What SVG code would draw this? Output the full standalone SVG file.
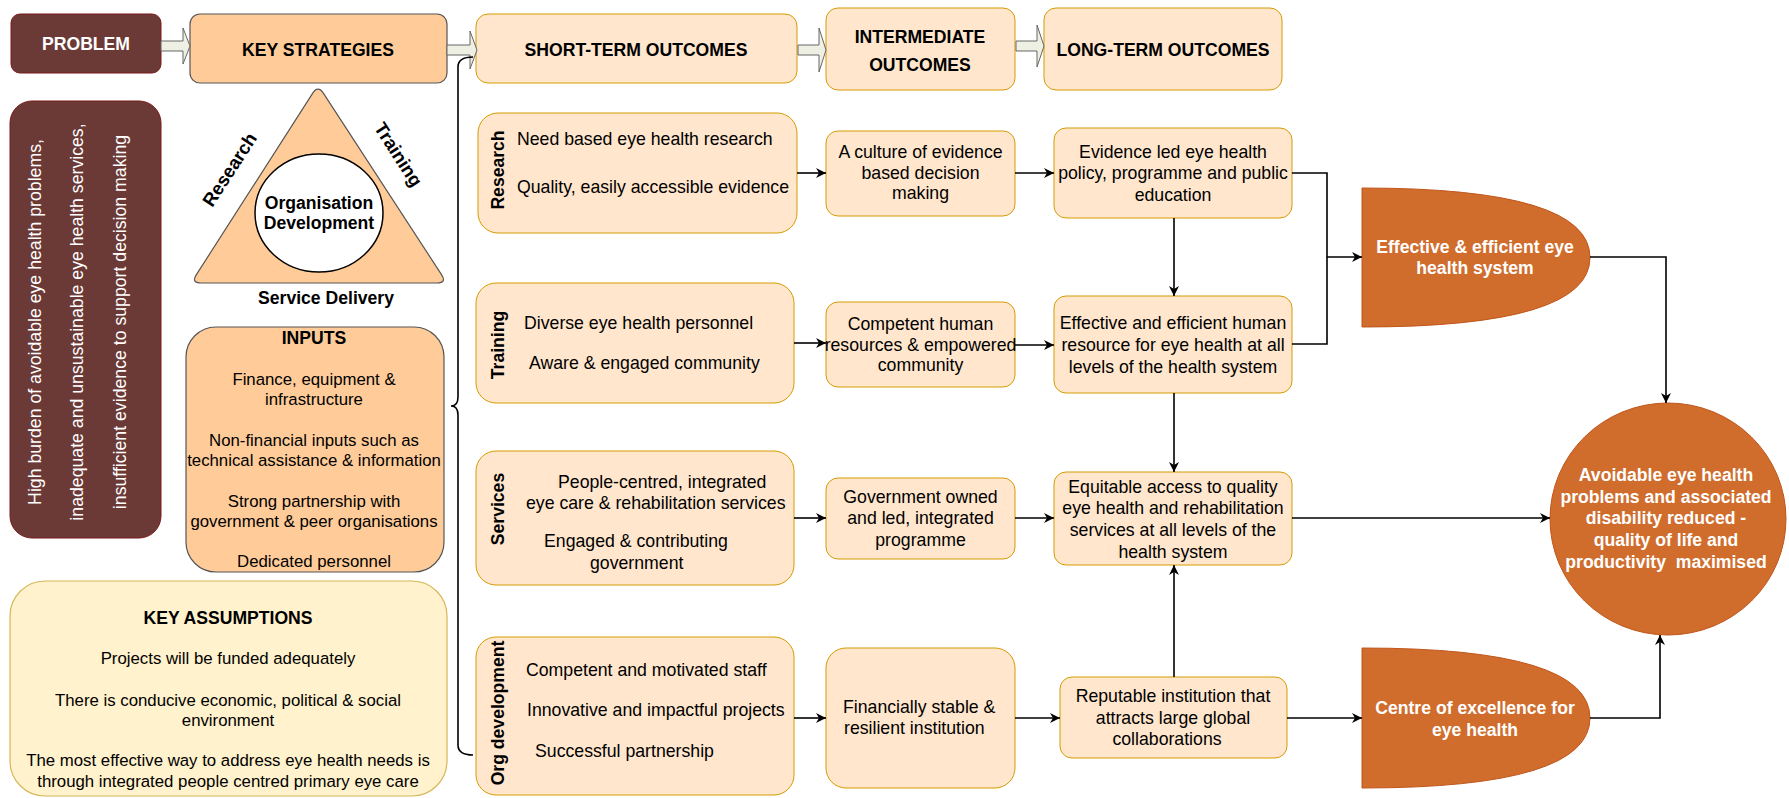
<svg xmlns="http://www.w3.org/2000/svg" width="1789" height="798" viewBox="0 0 1789 798">
<defs>
<marker id="ah" markerWidth="11" markerHeight="10" refX="10" refY="5" orient="auto" markerUnits="userSpaceOnUse">
<path d="M0,0 L10,5 L0,10 L3,5 Z" fill="#000"/>
</marker>
<style>
text{font-family:"Liberation Sans",Arial,Helvetica,sans-serif;}
.b{font-weight:bold;font-size:17.6px;}
.r{font-size:17.7px;}
.s{font-size:16.8px;}
.w{fill:#fff;}
.c{text-anchor:middle;}
.prob{fill:#6b3a36;stroke:#7a1a1a;stroke-width:1;}
.ks{fill:#ffcc99;stroke:#555;stroke-width:1.2;}
.pe{fill:#ffe6cc;stroke:#d79b00;stroke-width:1;}
.as{fill:#fff2cc;stroke:#d6b656;stroke-width:1.2;}
.or{fill:#d06d2d;stroke:#c0561a;stroke-width:1;}
.ba{fill:#eef0e4;stroke:#666;stroke-width:1;}
.ln{fill:none;stroke:#000;stroke-width:1.6;}
</style>
</defs>

<g id="problem">
<rect class="prob" x="11" y="14" width="150" height="59" rx="9"/>
<text class="b w c" x="86" y="50">PROBLEM</text>
</g>

<g id="problem-detail">
<rect class="prob" x="10" y="101" width="151" height="437" rx="22"/>
<text class="r w c" transform="translate(41,322) rotate(-90)">High burden of avoidable eye health problems,</text>
<text class="r w c" transform="translate(83,322) rotate(-90)">inadequate and unsustainable eye health services,</text>
<text class="r w c" transform="translate(126,322) rotate(-90)">insufficient evidence to support decision making</text>
</g>

<g id="key-strategies">
<rect class="ks" x="190" y="14" width="257" height="69" rx="10"/>
<text class="b c" x="318" y="56">KEY STRATEGIES</text>
</g>

<g id="strategy-triangle">
<path class="ks" d="M312.6,93.4 Q318,85 323.5,93.4 L441.5,274.6 Q447,283 437,283 L201,283 Q191,283 196.4,274.6 Z"/>
<ellipse cx="319" cy="213" rx="64" ry="59" fill="#fff" stroke="#000" stroke-width="1.5"/>
<text class="b c" x="319" y="209">Organisation</text>
<text class="b c" x="319" y="229">Development</text>
<text class="b c" style="font-size:18.5px" transform="translate(235,173) rotate(-57)">Research</text>
<text class="b c" style="font-size:18.5px" transform="translate(393,158) rotate(57)">Training</text>
<text class="b c" x="326" y="304">Service Delivery</text>
</g>

<g id="inputs">
<rect class="ks" x="186" y="327" width="258" height="245" rx="30"/>
<text class="b c" x="314" y="344">INPUTS</text>
<text class="s c" x="314" y="385">Finance, equipment &amp;</text>
<text class="s c" x="314" y="405">infrastructure</text>
<text class="s c" x="314" y="446">Non-financial inputs such as</text>
<text class="s c" x="314" y="466">technical assistance &amp; information</text>
<text class="s c" x="314" y="507">Strong partnership with</text>
<text class="s c" x="314" y="527">government &amp; peer organisations</text>
<text class="s c" x="314" y="567">Dedicated personnel</text>
</g>

<g id="key-assumptions">
<rect class="as" x="10" y="581" width="437" height="215" rx="35"/>
<text class="b c" x="228" y="624">KEY ASSUMPTIONS</text>
<text class="s c" x="228" y="664">Projects will be funded adequately</text>
<text class="s c" x="228" y="706">There is conducive economic, political &amp; social</text>
<text class="s c" x="228" y="726">environment</text>
<text class="s c" x="228" y="766">The most effective way to address eye health needs is</text>
<text class="s c" x="228" y="787">through integrated people centred primary eye care</text>
</g>

<g id="short-term-header">
<rect class="pe" x="476" y="14" width="321" height="69" rx="12"/>
<text class="b c" x="636" y="56">SHORT-TERM OUTCOMES</text>
</g>

<g id="intermediate-header">
<rect class="pe" x="826" y="8" width="189" height="82" rx="12"/>
<text class="b c" x="920" y="43">INTERMEDIATE</text>
<text class="b c" x="920" y="71">OUTCOMES</text>
</g>

<g id="long-term-header">
<rect class="pe" x="1044" y="8" width="238" height="82" rx="12"/>
<text class="b c" x="1163" y="56">LONG-TERM OUTCOMES</text>
</g>

<g id="st-research">
<rect class="pe" x="478" y="113" width="319" height="120" rx="20"/>
<text class="b c" transform="translate(504,170) rotate(-90)">Research</text>
<text class="r" x="517" y="145">Need based eye health research</text>
<text class="r" x="517" y="193">Quality, easily accessible evidence</text>
</g>

<g id="st-training">
<rect class="pe" x="476" y="283" width="318" height="120" rx="20"/>
<text class="b c" transform="translate(504,345) rotate(-90)">Training</text>
<text class="r" x="524" y="329">Diverse eye health personnel</text>
<text class="r" x="529" y="369">Aware &amp; engaged community</text>
</g>

<g id="st-services">
<rect class="pe" x="476" y="451" width="318" height="134" rx="20"/>
<text class="b c" transform="translate(504,509) rotate(-90)">Services</text>
<text class="r" x="558" y="488">People-centred, integrated</text>
<text class="r" x="526" y="509">eye care &amp; rehabilitation services</text>
<text class="r" x="544" y="547">Engaged &amp; contributing</text>
<text class="r" x="590" y="569">government</text>
</g>

<g id="st-org">
<rect class="pe" x="476" y="637" width="318" height="158" rx="20"/>
<text class="b c" transform="translate(504,713) rotate(-90)">Org development</text>
<text class="r" x="526" y="676">Competent and motivated staff</text>
<text class="r" x="527" y="716">Innovative and impactful projects</text>
<text class="r" x="535" y="757">Successful partnership</text>
</g>

<g id="im-culture">
<rect class="pe" x="826" y="131" width="189" height="85" rx="12"/>
<text class="r c" x="920.5" y="158">A culture of evidence</text>
<text class="r c" x="920.5" y="179">based decision</text>
<text class="r c" x="920.5" y="199">making</text>
</g>

<g id="im-competent">
<rect class="pe" x="826" y="302" width="189" height="85" rx="12"/>
<text class="r c" x="920.5" y="330">Competent human</text>
<text class="r c" x="920.5" y="351">resources &amp; empowered</text>
<text class="r c" x="920.5" y="371">community</text>
</g>

<g id="im-government">
<rect class="pe" x="826" y="478" width="189" height="81" rx="12"/>
<text class="r c" x="920.5" y="503">Government owned</text>
<text class="r c" x="920.5" y="524">and led, integrated</text>
<text class="r c" x="920.5" y="546">programme</text>
</g>

<g id="im-financial">
<rect class="pe" x="826" y="648" width="189" height="140" rx="20"/>
<text class="r" x="843" y="713">Financially stable &amp;</text>
<text class="r" x="844" y="734">resilient institution</text>
</g>

<g id="lt-evidence">
<rect class="pe" x="1054" y="128" width="238" height="90" rx="12"/>
<text class="r c" x="1173" y="158">Evidence led eye health</text>
<text class="r c" x="1173" y="179">policy, programme and public</text>
<text class="r c" x="1173" y="201">education</text>
</g>

<g id="lt-human">
<rect class="pe" x="1054" y="296" width="238" height="97" rx="12"/>
<text class="r c" x="1173" y="329">Effective and efficient human</text>
<text class="r c" x="1173" y="351">resource for eye health at all</text>
<text class="r c" x="1173" y="373">levels of the health system</text>
</g>

<g id="lt-equitable">
<rect class="pe" x="1054" y="472" width="238" height="93" rx="12"/>
<text class="r c" x="1173" y="493">Equitable access to quality</text>
<text class="r c" x="1173" y="514">eye health and rehabilitation</text>
<text class="r c" x="1173" y="536">services at all levels of the</text>
<text class="r c" x="1173" y="558">health system</text>
</g>

<g id="lt-reputable">
<rect class="pe" x="1060" y="677" width="227" height="81" rx="12"/>
<text class="r c" x="1173" y="702">Reputable institution that</text>
<text class="r c" x="1173" y="724">attracts large global</text>
<text class="r c" x="1167" y="745">collaborations</text>
</g>

<g id="effective-system">
<path class="or" d="M1362,188 Q1590,188 1590,257.5 Q1590,327 1362,327 Z"/>
<text class="b w c" x="1475" y="253">Effective &amp; efficient eye</text>
<text class="b w c" x="1475" y="274">health system</text>
</g>

<g id="centre-excellence">
<path class="or" d="M1362,648 Q1590,648 1590,718 Q1590,788 1362,788 Z"/>
<text class="b w c" x="1475" y="714">Centre of excellence for</text>
<text class="b w c" x="1475" y="736">eye health</text>
</g>

<g id="impact">
<ellipse class="or" cx="1668" cy="519" rx="118" ry="116"/>
<text class="b w c" x="1666" y="481">Avoidable eye health</text>
<text class="b w c" x="1666" y="503">problems and associated</text>
<text class="b w c" x="1666" y="524">disability reduced -</text>
<text class="b w c" x="1666" y="546">quality of life and</text>
<text class="b w c" x="1666" y="568" xml:space="preserve">productivity  maximised</text>
</g>

<g id="connectors">
<polygon class="ba" points="161,41 183,41 183,28 190,46 183,64 183,51 161,51"/>
<polygon class="ba" points="447,45 470,45 470,31 477,50 470,69 470,55 447,55"/>
<polygon class="ba" points="798,45 819,45 819,28 826,50 819,72 819,55 798,55"/>
<polygon class="ba" points="1016,41 1037,41 1037,25 1044,46 1037,67 1037,51 1016,51"/>
<path class="ln" d="M473,57 Q458,57 458,67 L458,397 Q458,406 451,406 Q458,406 458,415 L458,745 Q458,755 473,755"/>
<path class="ln" d="M797,173 L826,173" marker-end="url(#ah)"/>
<path class="ln" d="M1015,173 L1054,173" marker-end="url(#ah)"/>
<path class="ln" d="M794,343 L826,343" marker-end="url(#ah)"/>
<path class="ln" d="M1015,345 L1054,345" marker-end="url(#ah)"/>
<path class="ln" d="M794,518 L826,518" marker-end="url(#ah)"/>
<path class="ln" d="M1015,518 L1054,518" marker-end="url(#ah)"/>
<path class="ln" d="M794,718 L826,718" marker-end="url(#ah)"/>
<path class="ln" d="M1015,718 L1060,718" marker-end="url(#ah)"/>
<path class="ln" d="M1174,218 L1174,296" marker-end="url(#ah)"/>
<path class="ln" d="M1174,393 L1174,472" marker-end="url(#ah)"/>
<path class="ln" d="M1174,677 L1174,565" marker-end="url(#ah)"/>
<path class="ln" d="M1292,173 L1327,173 L1327,257 L1362,257" marker-end="url(#ah)"/>
<path class="ln" d="M1292,344 L1327,344 L1327,257"/>
<path class="ln" d="M1292,518 L1550,518" marker-end="url(#ah)"/>
<path class="ln" d="M1287,718 L1362,718" marker-end="url(#ah)"/>
<path class="ln" d="M1590,257 L1666,257 L1666,403" marker-end="url(#ah)"/>
<path class="ln" d="M1590,718 L1660,718 L1660,635" marker-end="url(#ah)"/>
</g>
</svg>
